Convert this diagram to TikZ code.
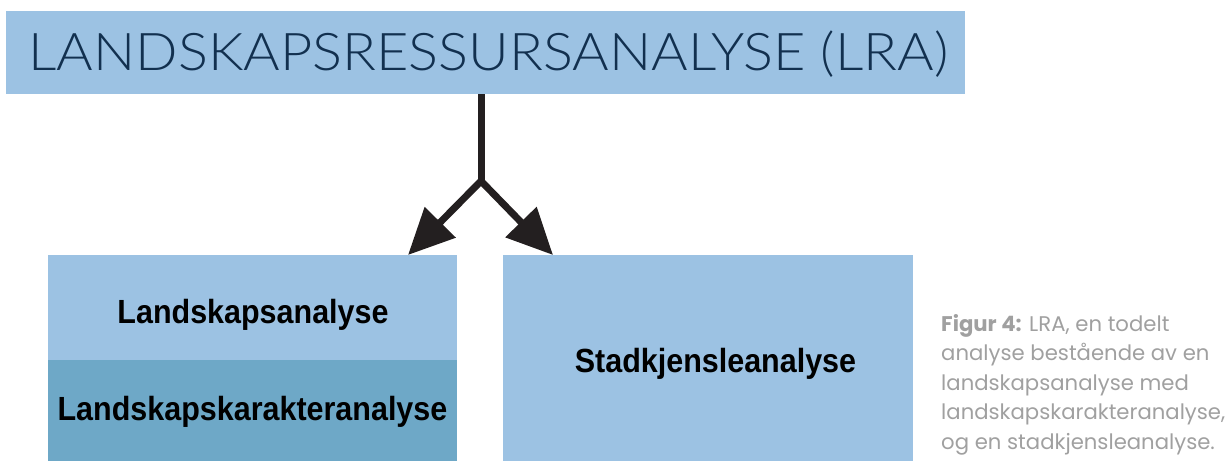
\documentclass[tikz,border=0pt]{standalone}
\usepackage{fontspec}
\usetikzlibrary{arrows.meta}
\newfontfamily\titlefont[FakeStretch=1.075]{Lato Light}
\newfontfamily\boxfont[FakeStretch=0.91]{Liberation Sans}
\newfontfamily\capfont{Poppins}
\definecolor{lb}{HTML}{9CC2E3}
\definecolor{db}{HTML}{6EA8C7}
\definecolor{navy}{HTML}{12304F}
\definecolor{arr}{HTML}{231F20}
\definecolor{capgray}{HTML}{A0A0A0}
\tikzset{
  box/.style={fill=#1, draw=none, anchor=north west, inner sep=0pt},
  boxtext/.style={font=\boxfont\bfseries\fontsize{33.5}{36}\selectfont, text=black, inner sep=0pt, anchor=base},
  conn/.style={draw=arr, line width=7pt, line join=miter, -{Triangle[length=46pt,width=42pt]}}
}
\begin{document}
\begin{tikzpicture}[x=1pt,y=-1pt]
\useasboundingbox (0,0) rectangle (1229,461);
% title box
\node[box=lb, minimum width=959pt, minimum height=83pt] (top) at (6,11) {};
\node[font=\titlefont\fontsize{52}{56}\selectfont, text=navy, inner sep=0pt, anchor=base] (title) at (488.5,70.7) {LANDSKAPSRESSURSANALYSE (LRA)};
% left boxes
\node[box=lb, minimum width=409pt, minimum height=105pt] (la) at (48,255) {};
\node[box=db, minimum width=409pt, minimum height=101pt] (lk) at (48,360) {};
\node[boxtext] (lat) at (253,323.5) {Landskapsanalyse};
\node[boxtext] (lkt) at (252.5,420) {Landskapskarakteranalyse};
% right box
\node[box=lb, minimum width=410pt, minimum height=206pt] (sa) at (503,255) {};
\node[boxtext] (sat) at (715.5,372) {Stadkjensleanalyse};
% connectors
\coordinate (j) at (481,181);
\coordinate (tl) at (408,255);
\coordinate (tr) at (553,255);
\draw[draw=arr, line width=7pt] (top.south -| j) -- (j);
\draw[conn] (j) -- (tl);
\draw[conn] (j) -- (tr);
% caption
\node[anchor=base west, inner sep=0pt, align=left, text=capgray, font=\capfont\fontsize{21.2}{29.6}\selectfont] (cap) at (941,449.5)
{\textbf{Figur 4:} LRA, en todelt\\analyse bestående av en\\landskapsanalyse med\\landskapskarakteranalyse,\\og en stadkjensleanalyse.};
\end{tikzpicture}
\end{document}
